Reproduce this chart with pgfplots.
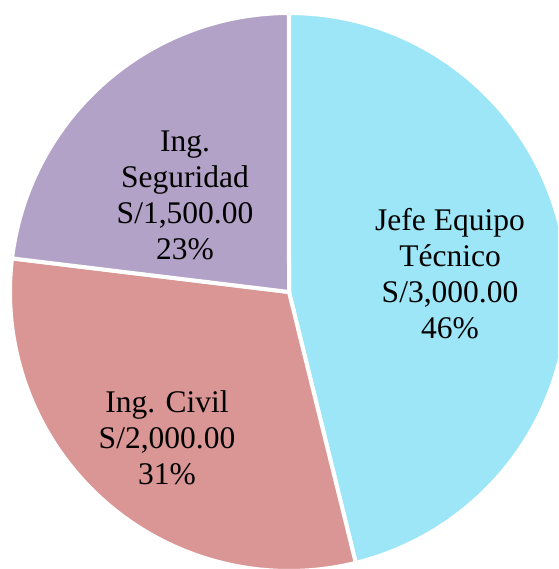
\documentclass[border=0pt]{standalone}
\usepackage{pgfplots}
\pgfplotsset{compat=1.18}
\usepackage{fontspec}
\setmainfont{Liberation Serif}
\definecolor{cJefe}{HTML}{9DE6F7}
\definecolor{cCivil}{HTML}{D99694}
\definecolor{cSeg}{HTML}{B3A2C7}
% data (S/)
\def\vJefe{3000}
\def\vCivil{2000}
\def\vSeg{1500}
\pgfmathsetmacro\total{\vJefe+\vCivil+\vSeg}
\pgfmathsetmacro\aA{90}
\pgfmathsetmacro\aB{\aA-360*(\vJefe/\total)}
\pgfmathsetmacro\aC{\aB-360*(\vCivil/\total)}
\pgfmathsetmacro\aD{\aC-360*(\vSeg/\total)}
\def\cx{289}
\def\cy{277}
\def\R{279}
\begin{document}
\begin{tikzpicture}
\begin{axis}[
  hide axis, scale only axis,
  width=558pt, height=569pt,
  xmin=0, xmax=558, ymin=0, ymax=569,
  clip=true,
]
\addplot[fill=cJefe, draw=white, line width=4pt, line join=round, domain=\aA:\aB, samples=120]
  ({\cx+\R*cos(x)},{\cy+\R*sin(x)}) -- (axis cs:\cx,\cy) -- cycle;
\addplot[fill=cCivil, draw=white, line width=4pt, line join=round, domain=\aB:\aC, samples=90]
  ({\cx+\R*cos(x)},{\cy+\R*sin(x)}) -- (axis cs:\cx,\cy) -- cycle;
\addplot[fill=cSeg, draw=white, line width=4pt, line join=round, domain=\aC:\aD, samples=70]
  ({\cx+\R*cos(x)},{\cy+\R*sin(x)}) -- (axis cs:\cx,\cy) -- cycle;
\node[align=center, font=\fontsize{31.5}{36}\selectfont] at (axis cs:450,295) {Jefe Equipo\\Técnico\\S/3,000.00\\46\%};
\node[align=center, font=\fontsize{31.5}{36}\selectfont] at (axis cs:167,131) {Ing. Civil\\S/2,000.00\\31\%};
\node[align=center, font=\fontsize{31.5}{36}\selectfont] at (axis cs:185,374) {Ing.\\Seguridad\\S/1,500.00\\23\%};
\end{axis}
\path (current axis.south west) rectangle (current axis.north east);
\end{tikzpicture}
\end{document}
